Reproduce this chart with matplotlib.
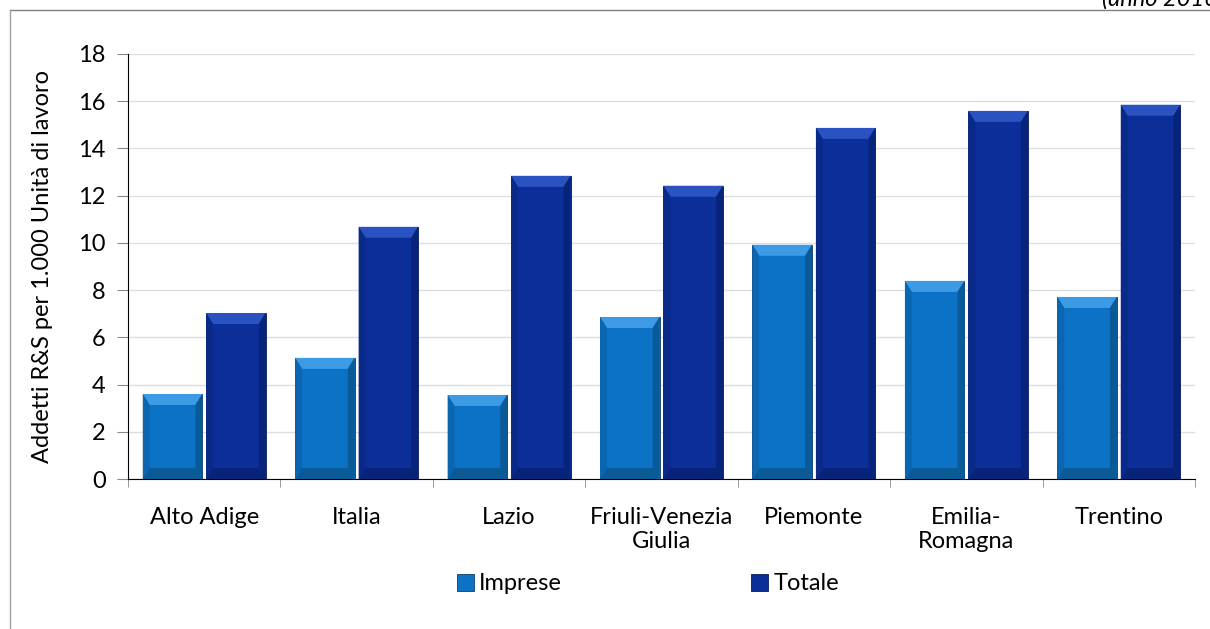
import matplotlib.pyplot as plt
import numpy as np
from matplotlib.patches import Polygon
from matplotlib.lines import Line2D

plt.rcParams['font.family'] = ['Lato', 'DejaVu Sans']

regioni = ["Alto Adige", "Italia", "Lazio", "Friuli-Venezia\nGiulia", "Piemonte",
           "Emilia-\nRomagna", "Trentino"]
imprese = [3.6, 5.13, 3.56, 6.86, 9.92, 8.39, 7.71]
totale = [7.03, 10.68, 12.84, 12.42, 14.87, 15.59, 15.85]

col_imprese = "#0b72c6"
col_totale = "#0b2e98"

fig = plt.figure(figsize=(12.1, 6.29), dpi=100)
ax = fig.add_axes([128 / 1210, 1 - 479 / 629, (1195 - 128) / 1210, (479 - 54) / 629])

x = np.arange(len(regioni))
w = 0.39
b1 = ax.bar(x - w / 2 - 0.013, imprese, w, color=col_imprese, edgecolor="#0a3d6e", linewidth=0.6,
            label="Imprese", zorder=3)
b2 = ax.bar(x + w / 2 + 0.013, totale, w, color=col_totale, edgecolor="#061a55", linewidth=0.6,
            label="Totale", zorder=3)

ax.set_xlim(-0.5, len(regioni) - 0.5)
ax.set_ylim(0, 18)


def bevel(rects, light, dark, side):
    # smussatura: fascia chiara in alto, scura in basso e ai lati
    bx = 0.045          # larghezza bordo in unità x
    by = 18 * 11 / 425  # altezza bordo in unità y (circa 11 px)
    for r in rects:
        x0, x1 = r.get_x(), r.get_x() + r.get_width()
        y1 = r.get_height()
        top = [(x0, y1), (x1, y1), (x1 - bx, y1 - by), (x0 + bx, y1 - by)]
        bot = [(x0, 0), (x1, 0), (x1 - bx, by), (x0 + bx, by)]
        left = [(x0, 0), (x0 + bx, by), (x0 + bx, y1 - by), (x0, y1)]
        right = [(x1, 0), (x1 - bx, by), (x1 - bx, y1 - by), (x1, y1)]
        ax.add_patch(Polygon(top, closed=True, color=light, lw=0, zorder=4))
        ax.add_patch(Polygon(bot, closed=True, color=dark, lw=0, zorder=4))
        ax.add_patch(Polygon(left, closed=True, color=side, lw=0, zorder=4))
        ax.add_patch(Polygon(right, closed=True, color=dark, lw=0, zorder=4))


bevel(b1, "#3d9be6", "#0a5a98", "#0a66b0")
bevel(b2, "#2a52c0", "#08237a", "#092a88")

ax.set_yticks(np.arange(0, 19, 2))
ax.yaxis.grid(True, color="#dedede", linewidth=1, zorder=0)
ax.set_axisbelow(True)
ax.set_xticks(x)
ax.set_xticklabels(regioni, fontsize=17)
ax.set_xticks(np.arange(-0.5, len(regioni), 1), minor=True)
ax.tick_params(axis="x", which="major", length=0, pad=20)
ax.tick_params(axis="x", which="minor", length=6, color="#888888")
ax.tick_params(axis="y", labelsize=17, length=8, color="#888888", pad=8)
for s in ["top", "right"]:
    ax.spines[s].set_visible(False)
ax.spines["left"].set_color("black")
ax.spines["bottom"].set_color("black")

ax.set_ylabel("Addetti R&S per 1.000 Unità di lavoro", fontsize=17, labelpad=18)

leg = ax.legend(loc="center", bbox_to_anchor=(0.487, -0.247), ncol=2, frameon=False,
                fontsize=17, handlelength=0.75, handleheight=0.75, handletextpad=0.2,
                columnspacing=8.0)

# cornice e nota anno
fig.add_artist(Line2D([10 / 1210, 1.0], [1 - 10 / 629, 1 - 10 / 629], color="#808080", lw=1))
fig.add_artist(Line2D([10 / 1210, 10 / 1210], [0, 1 - 10 / 629], color="#a0a0a0", lw=1))
fig.text(1102 / 1210, 1 + 1 / 629, "(anno 2016)", fontsize=17, style="italic", ha="left", va="center")

fig.savefig("out.png", dpi=100)
